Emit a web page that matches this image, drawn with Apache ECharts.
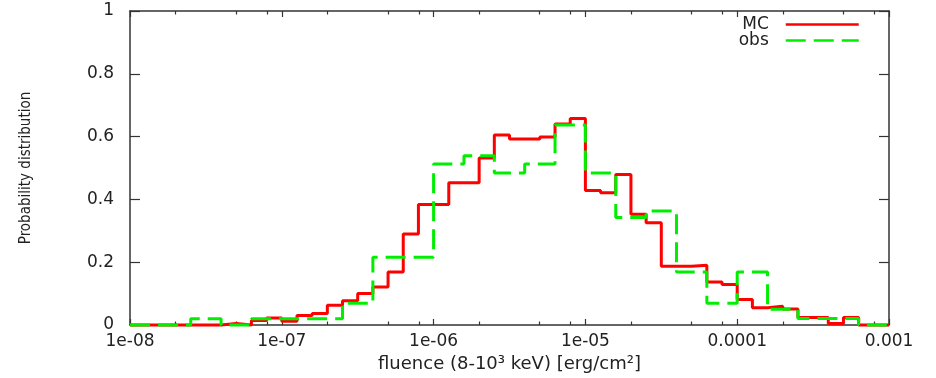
<!DOCTYPE html>
<html><head><meta charset="utf-8">
<script src="https://cdn.jsdelivr.net/npm/echarts@6/dist/echarts.min.js"></script>
<style>html,body{margin:0;padding:0;background:#fff}#c{width:936px;height:378px}</style>
</head><body><div id="c"></div>
<script>
// ---- data ----
const seriesNames = ['MC', 'obs'];
const binStartExp = -8;      // log10 of first bin edge
const mcBinWidth = 0.1;      // decades per MC bin
const obsBinWidth = 0.2;     // decades per obs bin
const mcValues = [
  0, 0, 0, 0, 0, 0, 0.005, 0, 0.014, 0.022,
  0.012, 0.030, 0.037, 0.063, 0.077, 0.100, 0.121, 0.169, 0.290, 0.384,
  0.384, 0.453, 0.453, 0.532, 0.605, 0.592, 0.592, 0.599, 0.640, 0.658,
  0.428, 0.421, 0.479, 0.353, 0.326, 0.187, 0.187, 0.190, 0.137, 0.129,
  0.081, 0.055, 0.060, 0.051, 0.024, 0.024, 0.005, 0.024, 0, 0
];
const obsValues = [
  0, 0, 0.020, 0, 0.020, 0.020, 0.020, 0.069, 0.216, 0.216,
  0.513, 0.539, 0.484, 0.513, 0.637, 0.484, 0.342, 0.363, 0.169, 0.069,
  0.169, 0.050, 0.021, 0.021, 0
];
const xMajorTicks = [1e-8, 1e-7, 1e-6, 1e-5, 1e-4, 1e-3];
const xTickLabels = ['1e-08', '1e-07', '1e-06', '1e-05', '0.0001', '0.001'];
const xMinorTicks = [2e-8, 5e-8, 8e-8, 2e-7, 5e-7, 8e-7, 2e-6, 5e-6, 8e-6,
                     2e-5, 5e-5, 8e-5, 2e-4, 5e-4, 8e-4];
const xTitle = 'fluence (8-10\u00B3 keV) [erg/cm\u00B2]';
const yTitle = 'Probability distribution';

// ---- build step outlines ----
function edge(exp) { return Number(Math.pow(10, exp).toPrecision(12)); }
function steps(values, width) {
  const pts = [];
  values.forEach((v, k) => {
    pts.push([edge(binStartExp + k * width), v]);
    pts.push([edge(binStartExp + (k + 1) * width), v]);
  });
  return pts;
}

const FONT = "'DejaVu Sans', Verdana, sans-serif";
const TXT = '#222';
const AX = '#333';

function xAxisBase(position, ticks, len, showLine, showLabel) {
  return {
    type: 'log', logBase: 10, min: 1e-8, max: 1e-3, position: position,
    axisLine: { show: showLine, lineStyle: { color: AX, width: 1.5 } },
    axisTick: { show: true, inside: true, length: len, customValues: ticks,
                lineStyle: { color: AX, width: 1.2 } },
    axisLabel: showLabel ? {
      show: true, customValues: xMajorTicks, margin: 8,
      fontFamily: FONT, fontSize: 17, color: TXT,
      formatter: v => xTickLabels[Math.round(Math.log10(v)) - binStartExp]
    } : { show: false },
    splitLine: { show: false }, minorTick: { show: false }
  };
}

const chart = echarts.init(document.getElementById('c'));
chart.setOption({
  animation: false,
  backgroundColor: '#fff',
  grid: { left: 130, right: 47, top: 11, bottom: 49, containLabel: false },
  legend: {
    orient: 'vertical', right: 76, top: 16, align: 'right', padding: 0,
    itemWidth: 73, itemHeight: 12, itemGap: -1,
    textStyle: { fontFamily: FONT, fontSize: 17, lineHeight: 16, color: TXT, padding: [0, 12, 0, 0] },
    lineStyle: { width: 2.5 },
    itemStyle: { opacity: 0, borderWidth: 0 },
    data: seriesNames
  },
  xAxis: [
    Object.assign(xAxisBase('bottom', xMajorTicks, 6, true, true), {
      name: xTitle, nameLocation: 'middle', nameGap: 30,
      nameTextStyle: { fontFamily: FONT, fontSize: 18, color: TXT }
    }),
    xAxisBase('bottom', xMinorTicks, 3.5, false, false),
    xAxisBase('top', xMajorTicks, 6, true, false),
    xAxisBase('top', xMinorTicks, 3.5, false, false)
  ],
  yAxis: [
    {
      type: 'value', min: 0, max: 1, interval: 0.2, position: 'left',
      name: yTitle, nameLocation: 'middle', nameGap: 96,
      nameTextStyle: { fontFamily: "'Liberation Sans Narrow', 'DejaVu Sans Condensed', sans-serif", fontSize: 15, color: TXT },
      axisLine: { show: true, lineStyle: { color: AX, width: 1.5 } },
      axisTick: { show: true, inside: true, length: 10, lineStyle: { color: AX, width: 1.2 } },
      axisLabel: { margin: 16, fontFamily: FONT, fontSize: 17, color: TXT },
      splitLine: { show: false }
    },
    {
      type: 'value', min: 0, max: 1, interval: 0.2, position: 'right',
      axisLine: { show: true, lineStyle: { color: AX, width: 1.5 } },
      axisTick: { show: true, inside: true, length: 10, lineStyle: { color: AX, width: 1.2 } },
      axisLabel: { show: false },
      splitLine: { show: false }
    }
  ],
  series: [
    {
      name: seriesNames[0], type: 'line', xAxisIndex: 0, yAxisIndex: 0,
      data: steps(mcValues, mcBinWidth),
      symbol: 'none', showSymbol: false, clip: false,
      lineStyle: { color: '#ff0000', width: 3 }, itemStyle: { color: '#ff0000' }
    },
    {
      name: seriesNames[1], type: 'line', xAxisIndex: 0, yAxisIndex: 0,
      data: steps(obsValues, obsBinWidth),
      symbol: 'none', showSymbol: false, clip: false,
      lineStyle: { color: '#00ee00', width: 3, type: [20, 8] }, itemStyle: { color: '#00ee00' }
    }
  ]
});
</script>
</body></html>
